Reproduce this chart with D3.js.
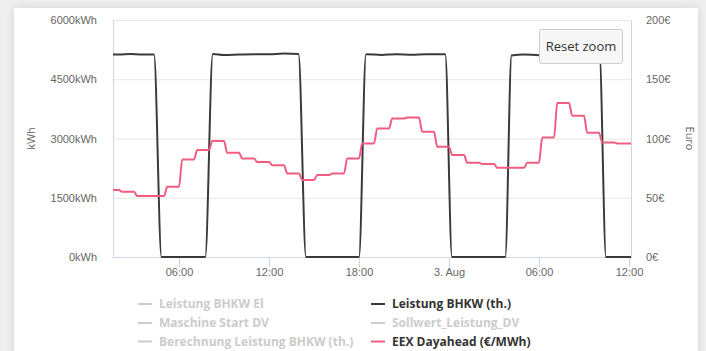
<!DOCTYPE html>
<html>
<head>
<meta charset="utf-8">
<script src="https://cdn.jsdelivr.net/npm/d3@7"></script>
<style>
    body { margin: 0; background: #efefef; width: 706px; height: 351px; overflow: hidden; font-family: "Open Sans", sans-serif; }
    #card { position: absolute; left: 14px; top: 8px; width: 684px; height: 370px; background: #fff; box-shadow: 0 0 10px rgba(0,0,0,0.10); }
    svg { position: absolute; left: 0; top: 0; }
</style>
</head>
<body>
<div id="card"></div>
<div id="chart"></div>
<script>

// Leistung BHKW (th.) in kWh
const bhkwTimes = [
    "2019-08-02 01:00", "2019-08-02 02:00", "2019-08-02 02:45", "2019-08-02 03:30", "2019-08-02 04:20",
    "2019-08-02 04:50", "2019-08-02 07:45", "2019-08-02 08:15", "2019-08-02 09:00", "2019-08-02 10:00",
    "2019-08-02 11:00", "2019-08-02 12:00", "2019-08-02 13:00", "2019-08-02 13:58", "2019-08-02 14:28",
    "2019-08-02 18:00", "2019-08-02 18:28", "2019-08-02 19:30", "2019-08-02 20:30", "2019-08-02 21:30",
    "2019-08-02 22:30", "2019-08-02 23:45", "2019-08-03 00:12", "2019-08-03 03:45", "2019-08-03 04:10",
    "2019-08-03 05:00", "2019-08-03 06:00", "2019-08-03 07:00", "2019-08-03 08:00", "2019-08-03 09:00",
    "2019-08-03 10:02", "2019-08-03 10:28", "2019-08-03 12:30"
];
const bhkwValues = [
    5130, 5125, 5140, 5125, 5125,
    0, 0, 5140, 5115, 5125,
    5135, 5130, 5150, 5140, 0,
    0, 5135, 5115, 5135, 5120,
    5135, 5130, 0, 0, 5100,
    5125, 5110, 5140, 5135, 5125,
    5130, 0, 0
];

// EEX Dayahead, one value per hour starting 2. Aug 01:00
const priceStart = "2019-08-02 01:00";
const priceValues = [
    56.5, 55.0, 51.4, 51.4, 59.3, 82.3, 90.2, 97.8, 87.9, 83.2, 80.1, 77.5,
    70.5, 64.9, 69.1, 70.5, 83.2, 95.8, 108.5, 116.9, 117.7, 105.6, 93.0,
    86.0, 79.5, 78.4, 75.3, 75.3, 79.5, 100.9, 130.0, 119.1, 104.8, 96.7, 95.8, 95.8
];

const leftTicks = [0, 1500, 3000, 4500, 6000];
const rightTicks = [0, 50, 100, 150, 200];
const legendLeft = ["Leistung BHKW El", "Maschine Start DV", "Berechnung Leistung BHKW (th.)"];
const legendRight = ["Leistung BHKW (th.)", "Sollwert_Leistung_DV", "EEX Dayahead (€/MWh)"];
const legendRightColors = ["#3a3a3a", "#cccccc", "#f15c80"];

const parse = d3.timeParse("%Y-%m-%d %H:%M");

const plotLeft = 113, plotRight = 631, plotTop = 20, plotBottom = 257;
const width = 706, height = 351;

const x_scale = d3.scaleTime()
    .domain([parse("2019-08-02 01:36"), parse("2019-08-03 12:08")])
    .range([plotLeft, plotRight]);

const yL = d3.scaleLinear().domain([0, 6000]).range([plotBottom, plotTop]);
const yR = d3.scaleLinear().domain([0, 200]).range([plotBottom, plotTop]);

const svg = d3.select("#chart")
    .append("svg")
        .attr("width", width)
        .attr("height", height)
        .style("font-family", "'Open Sans', sans-serif");

svg.append("clipPath").attr("id", "plotclip")
    .append("rect")
        .attr("x", plotLeft).attr("y", plotTop - 5)
        .attr("width", plotRight - plotLeft).attr("height", plotBottom - plotTop + 10);

// grid lines
const grid = svg.append("g")
    .attr("transform", `translate(${plotLeft}, 0)`)
    .call(d3.axisLeft(yL).tickValues(leftTicks).tickSize(-(plotRight - plotLeft)).tickFormat(""));
grid.select(".domain").remove();
grid.selectAll("line").attr("stroke", "#e6e6e6");

// left axis
const axL = svg.append("g")
    .attr("transform", `translate(${plotLeft}, 0)`)
    .call(d3.axisLeft(yL).tickValues(leftTicks).tickSize(0).tickPadding(16).tickFormat(d => d + "kWh"));
axL.select(".domain").attr("stroke", "#ccd6eb");
axL.selectAll("text").attr("fill", "#666").style("font-size", "11px");

// right axis
const axR = svg.append("g")
    .attr("transform", `translate(${plotRight}, 0)`)
    .call(d3.axisRight(yR).tickValues(rightTicks).tickSize(0).tickPadding(15).tickFormat(d => d + "€"));
axR.select(".domain").attr("stroke", "#ccd6eb");
axR.selectAll("text").attr("fill", "#666").style("font-size", "11px");

// x axis
const fmt = d => (d.getHours() === 0 ? d3.timeFormat("%-d. %b")(d) : d3.timeFormat("%H:%M")(d));
const axX = svg.append("g")
    .attr("transform", `translate(0, ${plotBottom})`)
    .call(d3.axisBottom(x_scale).ticks(d3.timeHour.every(6)).tickSize(10).tickSizeOuter(0).tickFormat(fmt));
axX.select(".domain").attr("stroke", "#ccd6eb");
axX.selectAll("line").attr("stroke", "#ccd6eb");
axX.selectAll("text").attr("fill", "#666").style("font-size", "11px").attr("y", 19).attr("dy", 0);

// axis titles
svg.append("text")
    .text("kWh")
    .attr("transform", `translate(35, ${(plotTop + plotBottom) / 2}) rotate(-90)`)
    .attr("text-anchor", "middle")
    .attr("fill", "#666")
    .style("font-size", "11px");

svg.append("text")
    .text("Euro")
    .attr("transform", `translate(686, ${(plotTop + plotBottom) / 2}) rotate(90)`)
    .attr("text-anchor", "middle")
    .attr("fill", "#666")
    .style("font-size", "11px");

// series
const bhkwData = bhkwTimes.map((t, i) => [parse(t), bhkwValues[i]]);

const priceData = [];
priceValues.forEach(function(v, i) {
    const t0 = d3.timeHour.offset(parse(priceStart), i);
    priceData.push([d3.timeMinute.offset(t0, 13), v]);
    priceData.push([d3.timeHour.offset(t0, 1), v]);
});

const plot = svg.append("g").attr("clip-path", "url(#plotclip)");

plot.append("path")
    .datum(bhkwData)
    .attr("fill", "none")
    .attr("stroke", "#3a3a3a")
    .attr("stroke-width", 2)
    .attr("d", d3.line().x(d => x_scale(d[0])).y(d => yL(d[1])).curve(d3.curveMonotoneX));

plot.append("path")
    .datum(priceData)
    .attr("fill", "none")
    .attr("stroke", "#f15c80")
    .attr("stroke-width", 2)
    .attr("d", d3.line().x(d => x_scale(d[0])).y(d => yR(d[1])).curve(d3.curveMonotoneX));

// reset zoom button
const btn = svg.append("g");
btn.append("rect")
    .attr("x", 539.5).attr("y", 29.5)
    .attr("width", 83).attr("height", 34)
    .attr("rx", 2)
    .attr("fill", "#f7f7f7")
    .attr("stroke", "#cccccc");
btn.append("text")
    .text("Reset zoom")
    .attr("x", 581).attr("y", 46)
    .attr("dy", "0.35em")
    .attr("text-anchor", "middle")
    .attr("fill", "#333")
    .style("font-size", "13px");

// legend
const rows = [304, 323, 341.5];
function legendItem(label, x, y, color, textColor) {
    svg.append("line")
        .attr("x1", x - 21).attr("x2", x - 7)
        .attr("y1", y).attr("y2", y)
        .attr("stroke", color)
        .attr("stroke-width", 2);
    svg.append("text")
        .text(label)
        .attr("x", x).attr("y", y)
        .attr("dy", "0.35em")
        .attr("fill", textColor)
        .style("font-size", "12px")
        .style("font-weight", "bold");
}
legendLeft.forEach((l, i) => legendItem(l, 159, rows[i], "#cccccc", "#cccccc"));
legendRight.forEach((l, i) => legendItem(l, 392, rows[i], legendRightColors[i], legendRightColors[i] === "#cccccc" ? "#cccccc" : "#333"));

</script>
</body>
</html>
